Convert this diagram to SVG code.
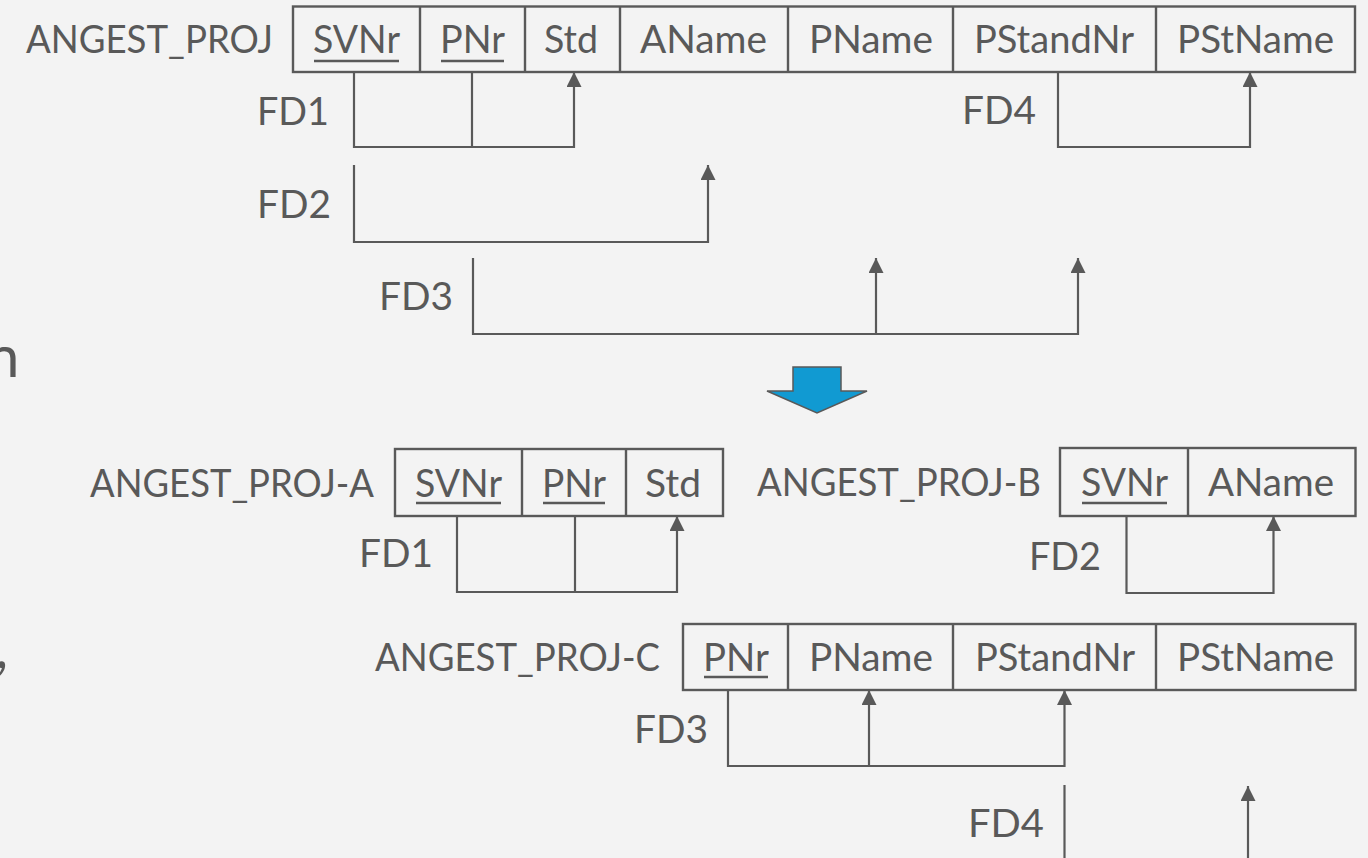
<svg xmlns="http://www.w3.org/2000/svg" width="1368" height="858" viewBox="0 0 1368 858">
<defs>
<style>
.t{font-family:Lato,"Open Sans","Liberation Sans",sans-serif;font-size:38.5px;fill:#595959;lengthAdjust:spacingAndGlyphs}
.big{font-family:Lato,"Open Sans","Liberation Sans",sans-serif;font-size:58px;fill:#595959}
.box{fill:none;stroke:#595959;stroke-width:2.4}
.div{stroke:#595959;stroke-width:2.4}
.ul{stroke:#595959;stroke-width:2.4}
.c{fill:none;stroke:#595959;stroke-width:2.2}
.ca{fill:none;stroke:#595959;stroke-width:2.2;marker-end:url(#ah)}
</style>
<marker id="ah" markerUnits="userSpaceOnUse" markerWidth="16" markerHeight="16" viewBox="0 0 16 16" refX="15" refY="7.5" orient="auto">
<path d="M0,0 L15,7.5 L0,15 z" fill="#595959"/>
</marker>
</defs>
<rect x="0" y="0" width="1368" height="858" fill="#F3F3F3"/>

<g id="cut-text">
<text class="big" x="-13" y="377">n</text>
<text class="big" x="-5" y="668">,</text>
</g>

<g id="angest_proj">
<text class="t" x="26" y="53" textLength="247" lengthAdjust="spacingAndGlyphs">ANGEST_PROJ</text>
<rect class="box" x="293" y="6.5" width="1062" height="65.5"/>
<line class="div" x1="420" y1="6.5" x2="420" y2="72"/>
<line class="div" x1="525" y1="6.5" x2="525" y2="72"/>
<line class="div" x1="620" y1="6.5" x2="620" y2="72"/>
<line class="div" x1="788" y1="6.5" x2="788" y2="72"/>
<line class="div" x1="953" y1="6.5" x2="953" y2="72"/>
<line class="div" x1="1156" y1="6.5" x2="1156" y2="72"/>
<text class="t" x="313" y="53" textLength="87" lengthAdjust="spacingAndGlyphs">SVNr</text>
<line class="ul" x1="314" y1="61" x2="399" y2="61"/>
<text class="t" x="440" y="53" textLength="65" lengthAdjust="spacingAndGlyphs">PNr</text>
<line class="ul" x1="441" y1="61" x2="504" y2="61"/>
<text class="t" x="544" y="53" textLength="54" lengthAdjust="spacingAndGlyphs">Std</text>
<text class="t" x="640" y="53" textLength="127" lengthAdjust="spacingAndGlyphs">AName</text>
<text class="t" x="809" y="53" textLength="124" lengthAdjust="spacingAndGlyphs">PName</text>
<text class="t" x="974" y="53" textLength="160" lengthAdjust="spacingAndGlyphs">PStandNr</text>
<text class="t" x="1177" y="53" textLength="157" lengthAdjust="spacingAndGlyphs">PStName</text>
</g>

<g id="angest_proj_a">
<text class="t" x="90" y="497" textLength="284" lengthAdjust="spacingAndGlyphs">ANGEST_PROJ-A</text>
<rect class="box" x="395" y="449" width="328" height="67"/>
<line class="div" x1="522" y1="449" x2="522" y2="516"/>
<line class="div" x1="626" y1="449" x2="626" y2="516"/>
<text class="t" x="415" y="497" textLength="87" lengthAdjust="spacingAndGlyphs">SVNr</text>
<line class="ul" x1="416" y1="503" x2="501" y2="503"/>
<text class="t" x="542" y="497" textLength="64" lengthAdjust="spacingAndGlyphs">PNr</text>
<line class="ul" x1="543" y1="503" x2="605" y2="503"/>
<text class="t" x="645" y="497" textLength="56" lengthAdjust="spacingAndGlyphs">Std</text>
</g>

<g id="angest_proj_b">
<text class="t" x="757" y="496" textLength="284" lengthAdjust="spacingAndGlyphs">ANGEST_PROJ-B</text>
<rect class="box" x="1060" y="448" width="295.5" height="68"/>
<line class="div" x1="1188" y1="448" x2="1188" y2="516"/>
<text class="t" x="1081" y="496" textLength="87" lengthAdjust="spacingAndGlyphs">SVNr</text>
<line class="ul" x1="1082" y1="503" x2="1167" y2="503"/>
<text class="t" x="1208" y="496" textLength="126" lengthAdjust="spacingAndGlyphs">AName</text>
</g>

<g id="angest_proj_c">
<text class="t" x="375" y="671" textLength="285" lengthAdjust="spacingAndGlyphs">ANGEST_PROJ-C</text>
<rect class="box" x="683" y="624" width="672.5" height="66"/>
<line class="div" x1="788" y1="624" x2="788" y2="690"/>
<line class="div" x1="953" y1="624" x2="953" y2="690"/>
<line class="div" x1="1156" y1="624" x2="1156" y2="690"/>
<text class="t" x="703" y="671" textLength="66" lengthAdjust="spacingAndGlyphs">PNr</text>
<line class="ul" x1="704" y1="677" x2="768" y2="677"/>
<text class="t" x="809" y="671" textLength="124" lengthAdjust="spacingAndGlyphs">PName</text>
<text class="t" x="975" y="671" textLength="160" lengthAdjust="spacingAndGlyphs">PStandNr</text>
<text class="t" x="1177" y="671" textLength="157" lengthAdjust="spacingAndGlyphs">PStName</text>
</g>

<g id="transform-arrow">
<polygon points="793,367 841,367 841,391 867,391 817,413 767,391 793,391" fill="#119AD2" stroke="#595959" stroke-width="1.5" stroke-linejoin="miter"/>
</g>

<g id="connectors">
<polyline class="ca" points="354,72 354,147 574,147 574,72"/>
<line class="c" x1="472" y1="72" x2="472" y2="147"/>
<polyline class="ca" points="1058,72 1058,147 1250,147 1250,72"/>
<polyline class="ca" points="354,165 354,242 708,242 708,165"/>
<polyline class="ca" points="473,258 473,334 1078,334 1078,258"/>
<line class="ca" x1="876" y1="334" x2="876" y2="258"/>
<polyline class="ca" points="457,516 457,592 677,592 677,516"/>
<line class="c" x1="575" y1="516" x2="575" y2="592"/>
<polyline class="ca" points="1126.5,516 1126.5,593 1273.5,593 1273.5,516"/>
<polyline class="ca" points="728,690 728,766 1064.5,766 1064.5,690"/>
<line class="ca" x1="869" y1="766" x2="869" y2="690"/>
<line class="c" x1="1064.5" y1="785" x2="1064.5" y2="860"/>
<line class="ca" x1="1248" y1="860" x2="1248" y2="786"/>
</g>

<g id="fd-labels">
<text class="t" x="257" y="125" textLength="72" lengthAdjust="spacingAndGlyphs">FD1</text>
<text class="t" x="962" y="124" textLength="74" lengthAdjust="spacingAndGlyphs">FD4</text>
<text class="t" x="257" y="218" textLength="74" lengthAdjust="spacingAndGlyphs">FD2</text>
<text class="t" x="379" y="310" textLength="74" lengthAdjust="spacingAndGlyphs">FD3</text>
<text class="t" x="359" y="567" textLength="74" lengthAdjust="spacingAndGlyphs">FD1</text>
<text class="t" x="1029" y="570" textLength="72" lengthAdjust="spacingAndGlyphs">FD2</text>
<text class="t" x="634" y="743" textLength="74" lengthAdjust="spacingAndGlyphs">FD3</text>
<text class="t" x="968" y="837" textLength="76" lengthAdjust="spacingAndGlyphs">FD4</text>
</g>
</svg>
